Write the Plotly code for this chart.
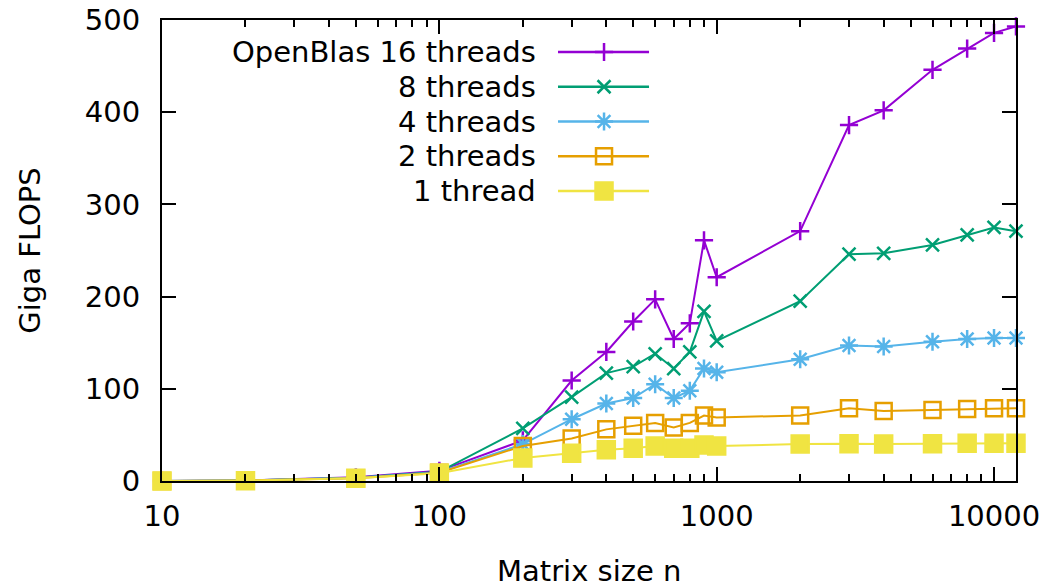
import plotly.graph_objects as go

# ---------------- data ----------------
sizes = [10, 20, 50, 100, 200, 300, 400, 500, 600, 700, 800, 900, 1000,
         2000, 3000, 4000, 6000, 8000, 10000, 12000]

gflops_16 = [0.1, 0.6, 4, 11, 44, 109, 140, 173, 197, 154, 171, 261, 221,
             271, 386, 402, 446, 469, 486, 493]
gflops_8 = [0.1, 0.6, 3.5, 10, 57, 91, 117, 124, 138, 122, 140, 184, 152,
            195, 246, 247, 256, 267, 275, 271]
gflops_4 = [0.1, 0.5, 3.5, 9.5, 40, 67, 84, 90, 105, 90, 98, 122, 118,
            132, 147, 146, 151, 154, 155, 155]
gflops_2 = [0.1, 0.5, 3, 9, 38, 46, 56, 60, 63, 58, 63, 71, 69,
            71, 79, 76, 77, 78, 79, 79]
gflops_1 = [0.1, 0.4, 3, 8.5, 25, 30, 34, 35.5, 38, 35.5, 35.5, 39, 38,
            40, 40.5, 40, 40.5, 41, 41, 41]

series_names = ["OpenBlas 16 threads", "8 threads", "4 threads", "2 threads", "1 thread"]
series_values = [gflops_16, gflops_8, gflops_4, gflops_2, gflops_1]

x_tick_vals = [10, 100, 1000, 10000]
x_tick_text = ["10", "100", "1000", "10000"]
y_tick_vals = [0, 100, 200, 300, 400, 500]

# ---------------- styles ----------------
colors = ["#9400d3", "#009e73", "#56b4e9", "#e69f00", "#f0e442"]
symbols = ["cross-thin", "x-thin", "asterisk", "square-open", "square"]
msizes = [13, 13, 15, 16, 17]
FONT = "DejaVu Sans"
FS = 29

fig = go.Figure()

for name, vals, c, s, ms in zip(series_names, series_values, colors, symbols, msizes):
    fig.add_trace(go.Scatter(
        x=sizes, y=vals, name=name, mode="lines+markers",
        line=dict(color=c, width=2),
        marker=dict(symbol=s, size=ms, color=c, line=dict(color=c, width=2.5)),
        cliponaxis=False, showlegend=False,
    ))

# ---------------- custom gnuplot-style key (text right, sample left) ----------------
key_text_x = 0.4403      # paper coords of text right edge
key_line_x0, key_line_x1 = 0.4637, 0.5703
key_mark_x = 0.5176
key_y0, key_dy = 0.9306, 0.0754

shapes = []
annotations = []
for i, (name, c, s, ms) in enumerate(zip(series_names, colors, symbols, msizes)):
    ky = key_y0 - i * key_dy
    annotations.append(dict(
        text=name, x=key_text_x, y=ky, xref="paper", yref="paper",
        xanchor="right", yanchor="middle", showarrow=False, yshift=0,
        font=dict(family=FONT, size=FS, color="black"),
    ))
    shapes.append(dict(type="line", xref="paper", yref="paper",
                       x0=key_line_x0, x1=key_line_x1, y0=ky, y1=ky,
                       line=dict(color=c, width=2.5), layer="below"))
    fig.add_trace(go.Scatter(
        x=[key_mark_x], y=[ky], xaxis="x2", yaxis="y2", mode="markers",
        marker=dict(symbol=s, size=ms, color=c, line=dict(color=c, width=2.5)),
        showlegend=False, hoverinfo="skip", cliponaxis=False,
    ))

annotations.append(dict(
    text="Matrix size n", x=0.5, y=-0.155, xref="paper", yref="paper",
    xanchor="center", yanchor="top", showarrow=False,
    font=dict(family=FONT, size=FS, color="black"),
))

axis_common = dict(
    showline=True, linecolor="black", linewidth=2, mirror="allticks",
    ticks="inside", tickcolor="black", tickwidth=2, ticklen=14,
    showgrid=False, zeroline=False, automargin=False,
    tickfont=dict(family=FONT, size=FS, color="black"),
)

fig.update_layout(
    width=1061, height=584, autosize=False,
    margin=dict(l=162, r=45, t=20, b=103, pad=0),
    paper_bgcolor="white", plot_bgcolor="white",
    font=dict(family=FONT, size=FS, color="black"),
    showlegend=False,
    xaxis=dict(
        type="log", range=[1, 4.0792],
        tickmode="array", tickvals=x_tick_vals, ticktext=x_tick_text,
        minor=dict(ticks="inside", ticklen=7, tickwidth=1.5, tickcolor="black",
                   tickmode="array",
                   tickvals=[v * k for v in [10, 100, 1000, 10000] for k in range(2, 10)
                             if v * k <= 12000]),
        ticklabelstandoff=8,
        **axis_common,
    ),
    yaxis=dict(
        range=[0, 500], tickmode="array", tickvals=y_tick_vals,
        ticklabelstandoff=14,
        title=dict(text="Giga FLOPS", font=dict(family=FONT, size=FS), standoff=36),
        **axis_common,
    ),
    xaxis2=dict(overlaying="x", range=[0, 1], visible=False),
    yaxis2=dict(overlaying="y", range=[0, 1], visible=False),
    shapes=shapes,
    annotations=annotations,
)

fig.write_html("out.html",
               config={"displayModeBar": False},
               post_script="document.body.style.margin='0px';document.body.style.overflow='hidden';")
